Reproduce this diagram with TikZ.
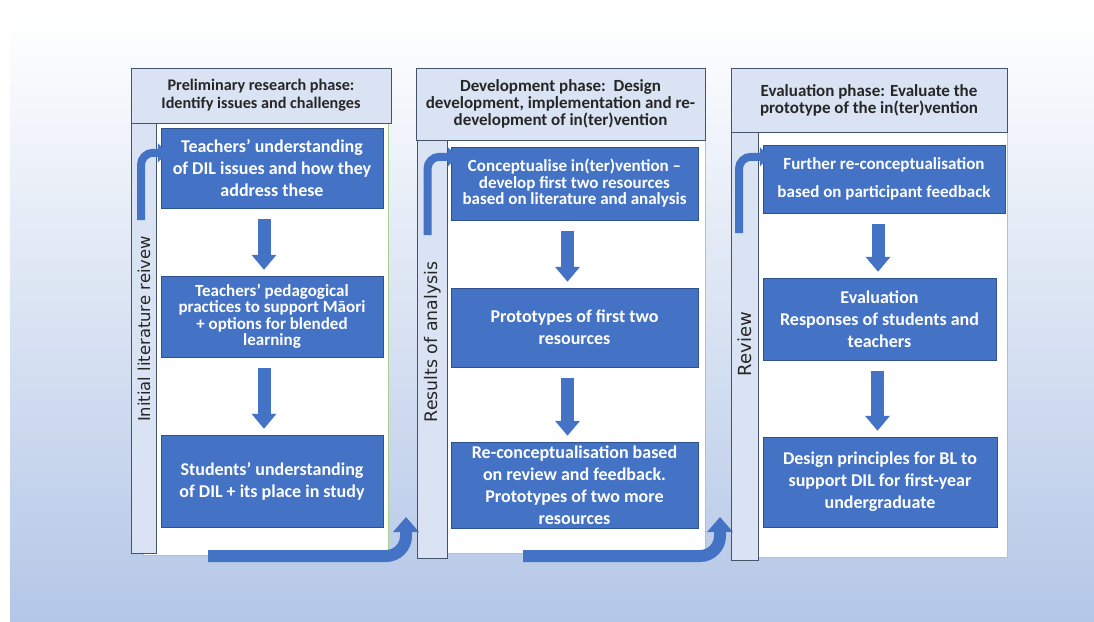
\documentclass[tikz,border=0pt]{standalone}
\usepackage{fontspec}
\setmainfont{Carlito}
\newfontfamily\sidefont{DejaVu Sans}
\usetikzlibrary{arrows.meta}
\usetikzlibrary{calc}

\definecolor{boxblue}{HTML}{4472C4}
\definecolor{boxedge}{HTML}{2F528F}
\definecolor{headfill}{HTML}{DAE3F3}
\definecolor{headedge}{HTML}{44546A}
\definecolor{panelgreen}{HTML}{A9D18E}
\definecolor{bgblue}{HTML}{B4C7E7}

\tikzset{
  bluebox/.style={draw=boxedge, fill=boxblue, text=white, align=center, inner sep=0pt,
    font=\bfseries\fontsize{18}{22}\selectfont},
  tightbox/.style={font=\bfseries\fontsize{17}{16.5}\selectfont},
  headbox/.style={draw=headedge, fill=headfill, text=black!85, align=center, inner sep=0pt,
    font=\bfseries\fontsize{17}{17}\selectfont},
  sidebar/.style={draw=headedge, fill=headfill},
  panel/.style={draw=panelgreen, fill=white},
  sidetext/.style={rotate=90, text=black!85, font=\sidefont\fontsize{#1}{16}\selectfont},
  downarrow/.style={draw=boxblue, line width=13pt, -{Triangle[width=24pt,length=15pt]},
    shorten <=11pt, shorten >=6pt},
  looparrow/.style={draw=boxblue, line width=8pt, rounded corners=12pt,
    -{Triangle[width=19pt,length=9pt]}},
  linkarrow/.style={draw=boxblue, line width=12pt, rounded corners=20pt,
    -{Triangle[width=25pt,length=15pt]}},
}

\begin{document}
\begin{tikzpicture}[x=1pt, y=-1pt]
\useasboundingbox (0,0) rectangle (1094,621);
% background
\fill[white] (0,0) rectangle (1094,621);
\shade[top color=white, middle color=bgblue!40!white, bottom color=bgblue] (10,15) rectangle (1094,621);

% panels and side bars
\draw[panel] (143,123) rectangle (388,555);
\draw[panel] (430,140) rectangle (705,553);
\draw[panel] (745,132) rectangle (1007,557);
\draw[sidebar] (131,123) rectangle (156,553);
\draw[sidebar] (417,140) rectangle (447,558);
\draw[sidebar] (731,132) rectangle (758,560);

% phase headers
\node[headbox, minimum width=260pt, minimum height=55pt, font=\bfseries\fontsize{16.2}{18}\selectfont]
  (h1) at (261,95.5) {Preliminary research phase:\\Identify issues and challenges};
\node[headbox, minimum width=289pt, minimum height=72pt] (h2) at (560.5,104)
  {Development phase:\ \ Design\\development, implementation and re-\\development of in(ter)vention};
\node[headbox, minimum width=276pt, minimum height=64pt] (h3) at (869,100)
  {Evaluation phase: Evaluate the\\prototype of the in(ter)vention};

% side labels
\node[sidetext=16.4] (s1t) at (144,329) {Initial literature reivew};
\node[sidetext=17.3] (s2t) at (433,342) {Results of analysis};
\node[sidetext=18] (s3t) at (745,344) {Review};

% column 1
\node[bluebox, minimum width=222pt, minimum height=80pt] (b11) at (272,168)
  {Teachers’ understanding\\of DIL issues and how they\\address these};
\node[bluebox, tightbox, minimum width=222pt, minimum height=81pt] (b12) at (272,316.5)
  {Teachers’ pedagogical\\practices to support Māori\\+ options for blended\\learning};
\node[bluebox, minimum width=222pt, minimum height=92pt] (b13) at (272,481)
  {Students’ understanding\\of DIL + its place in study};

% column 2
\node[bluebox, tightbox, minimum width=247pt, minimum height=73pt] (b21) at (574.5,183.5)
  {Conceptualise in(ter)vention –\\develop first two resources\\based on literature and analysis};
\node[bluebox, minimum width=247pt, minimum height=79pt] (b22) at (574.5,327.5)
  {Prototypes of first two\\resources};
\node[bluebox, minimum width=247pt, minimum height=86pt] (b23) at (574.5,485)
  {Re-conceptualisation based\\on review and feedback.\\Prototypes of two more\\resources};

% column 3
\node[bluebox, minimum width=242pt, minimum height=68pt, font=\bfseries\fontsize{17}{28}\selectfont]
  (b31) at (884,179) {Further re-conceptualisation\\based on participant feedback};
\node[bluebox, minimum width=233pt, minimum height=82pt] (b32) at (879.5,319)
  {Evaluation\\Responses of students and\\teachers};
\node[bluebox, minimum width=234pt, minimum height=90pt] (b33) at (880,482)
  {Design principles for BL to\\support DIL for first-year\\undergraduate};

% arrows inside the columns
\draw[downarrow] ([xshift=-8pt]b11.south) -- ([xshift=-8pt]b11.south |- b12.north);
\draw[downarrow] ([xshift=-8pt]b12.south) -- ([xshift=-8pt]b12.south |- b13.north);
\draw[downarrow] ([xshift=-7pt]b21.south) -- ([xshift=-7pt]b21.south |- b22.north);
\draw[downarrow] ([xshift=-7pt]b22.south) -- ([xshift=-7pt]b22.south |- b23.north);
\draw[downarrow] ([xshift=-6pt]b31.south) -- ([xshift=-6pt]b31.south |- b32.north);
\draw[downarrow] ([xshift=-2pt]b32.south) -- ([xshift=-2pt]b32.south |- b33.north);

% side bar arrows into the first box
\coordinate (s1) at (141,220);
\coordinate (s2) at (427.5,235);
\coordinate (s3) at (739,233);
\draw[looparrow] (s1) |- ([xshift=6pt,yshift=-25pt]b11.north west);
\draw[looparrow] (s2) |- ([xshift=6pt,yshift=-10pt]b21.north west);
\draw[looparrow] (s3) |- ([xshift=6pt,yshift=-12pt]b31.north west);

% links between the phases
\coordinate (l1s) at (208,556);
\coordinate (l1e) at (406,517);
\coordinate (l2s) at (523,556);
\coordinate (l2e) at (720,517);
\draw[linkarrow] (l1s) -| (l1e);
\draw[linkarrow] (l2s) -| (l2e);
\end{tikzpicture}
\end{document}
